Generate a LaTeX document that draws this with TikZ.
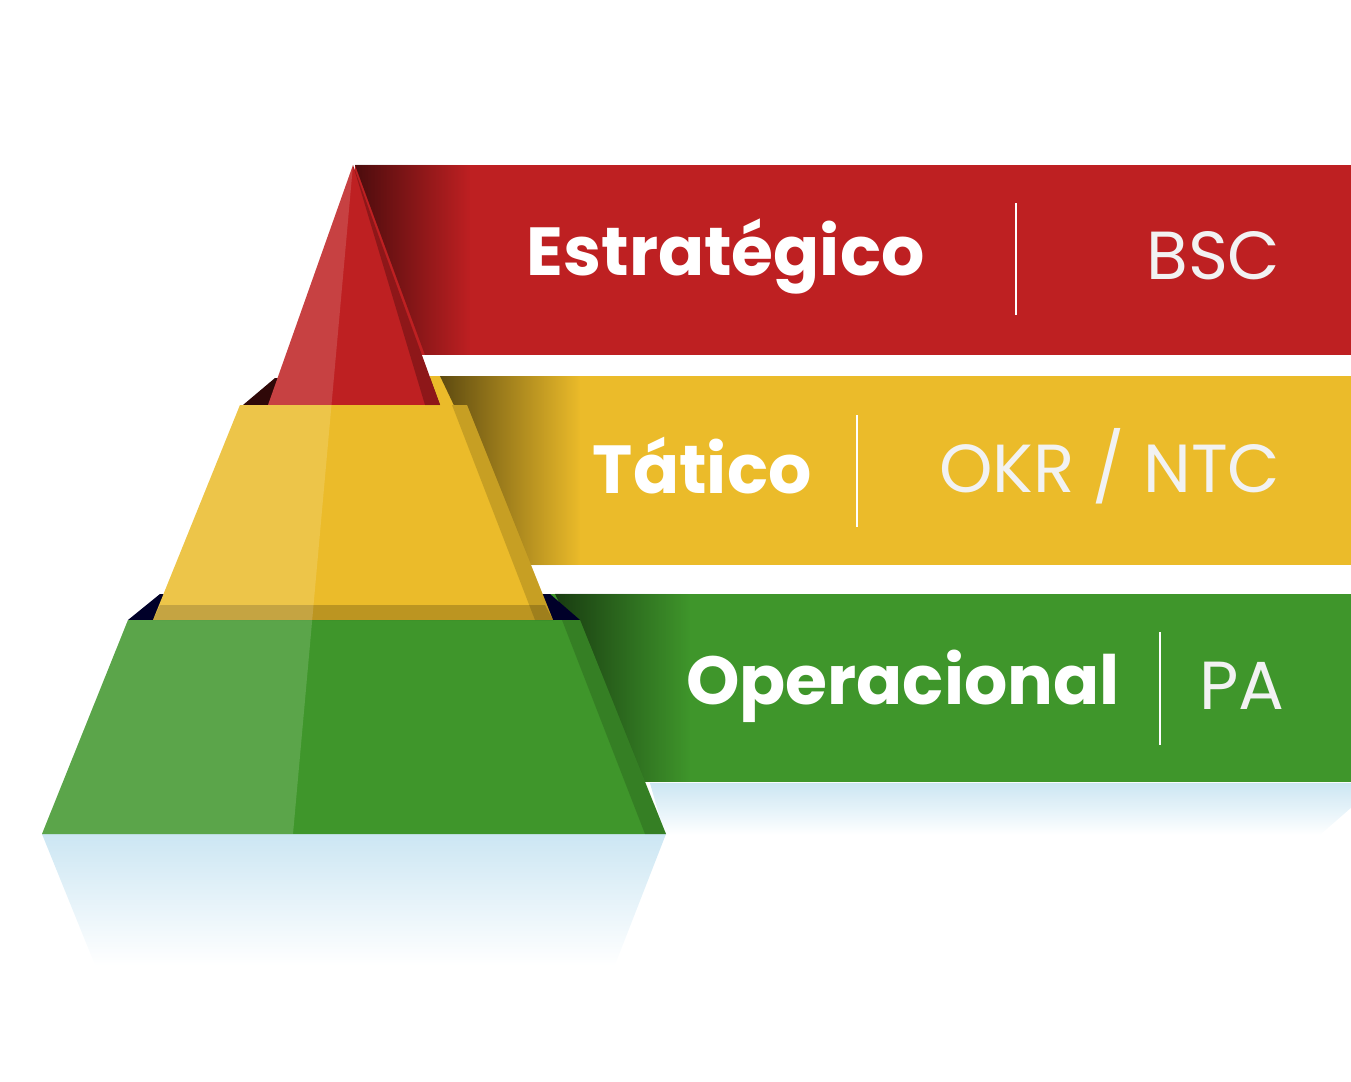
\documentclass[tikz,border=0pt]{standalone}
\usepackage{fontspec}
\setmainfont{Poppins}
\usetikzlibrary{fadings}
\definecolor{cred}{HTML}{BE2022}
\definecolor{cyel}{HTML}{EBBB2A}
\definecolor{cgrn}{HTML}{3F962B}
\definecolor{crefl}{HTML}{BFE0F0}
\tikzfading[name=fadedown, top color=transparent!20, bottom color=transparent!100]
\tikzfading[name=fadeleft, left color=transparent!40, right color=transparent!100]
\tikzset{
  bigb/.style={text=white, font=\fontsize{68}{68}\selectfont\bfseries, anchor=east},
  bigl/.style={text=white!95!black, font=\fontsize{68}{68}\selectfont, anchor=east},
  sep/.style={white, line width=2pt}
}
\begin{document}
\begin{tikzpicture}[x=1pt,y=-1pt]
\useasboundingbox (0,0) rectangle (1351,1081);
% reflections
\fill[crefl, path fading=fadedown] (42,834) -- (666,834) -- (615,965) -- (95,965) -- cycle;
\fill[crefl, path fading=fadedown] (650,783) -- (1351,783) -- (1351,808) -- (1320,835) -- (665,835) -- cycle;
% bands
\fill[cred] (355,165) rectangle (1351,355);
\fill[cyel] (430,376) rectangle (1351,565);
\fill[cgrn] (535,594) rectangle (1351,782);
% band shadows near pyramid
\fill[black, path fading=fadeleft] (355,165) -- (470,165) -- (470,355) -- (425,355) -- cycle;
\fill[black, path fading=fadeleft] (440,376) -- (580,376) -- (580,565) -- (530,565) -- cycle;
\fill[black, path fading=fadeleft] (555,594) -- (690,594) -- (690,782) -- (645,782) -- cycle;
% pyramid
\fill[black!75!cred] (243,405) -- (275,378) -- (430,378) -- (440,405) -- cycle;
\fill[cred] (353,165) -- (440,405) -- (268,405) -- cycle;
\fill[black!60!blue!40!black] (128,620) -- (160,594) -- (550,594) -- (580,620) -- cycle;
\fill[cyel] (240,405) -- (467,405) -- (553,620) -- (153,620) -- cycle;
\fill[cgrn] (128,620) -- (580,620) -- (666,834) -- (42,834) -- cycle;
% right edge shadows
\fill[black, opacity=0.25] (353,165) -- (440,405) -- (425,405) -- cycle;
\fill[black, opacity=0.15] (467,405) -- (553,620) -- (535,620) -- (452,405) -- cycle;
\fill[black, opacity=0.15] (580,620) -- (666,834) -- (645,834) -- (562,620) -- cycle;
\fill[black, opacity=0.2] (153,620) -- (553,620) -- (545,605) -- (160,605) -- cycle;
% left highlight
\fill[white, opacity=0.15] (353,165) -- (268,405) -- (240,405) -- (153,620) -- (128,620) -- (42,834) -- (293,834) -- cycle;
% texts
\node[bigb] (s1) at (928,256) {Estratégico};
\node[bigl] (t1) at (1284,256) {BSC};
\draw[sep] (1016,203) -- (1016,315);
\node[bigb] (s2) at (815,466) {Tático};
\node[bigl] (t2) at (1284,466) {OKR / NTC};
\draw[sep] (857,415) -- (857,527);
\node[bigb] (s3) at (1123,686) {Operacional};
\node[bigl] (t3) at (1288,686) {PA};
\draw[sep] (1160,632) -- (1160,745);
\end{tikzpicture}
\end{document}
